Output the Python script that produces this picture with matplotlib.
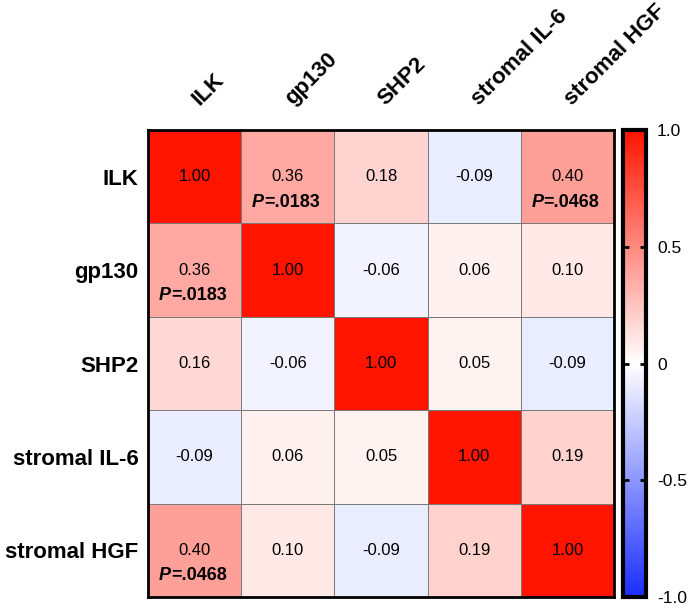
import numpy as np
import matplotlib
matplotlib.use("Agg")
import matplotlib.pyplot as plt
import matplotlib.transforms as mtransforms
from matplotlib.colors import LinearSegmentedColormap

plt.rcParams['font.family'] = ['Liberation Sans', 'DejaVu Sans']

labels = ["ILK", "gp130", "SHP2", "stromal IL-6", "stromal HGF"]
values = [
    [1.00, 0.36, 0.18, -0.09, 0.40],
    [0.36, 1.00, -0.06, 0.06, 0.10],
    [0.16, -0.06, 1.00, 0.05, -0.09],
    [-0.09, 0.06, 0.05, 1.00, 0.19],
    [0.40, 0.10, -0.09, 0.19, 1.00],
]
pvals = {(0, 1): ".0183", (0, 4): ".0468", (1, 0): ".0183", (4, 0): ".0468"}
cbar_ticks = [-1.0, -0.5, 0, 0.5, 1.0]
cbar_labels = ["-1.0", "-0.5", "0", "0.5", "1.0"]

data = np.array(values)
n = len(labels)
cmap = LinearSegmentedColormap.from_list("bwr2", ["#1a2eff", "#ffffff", "#ff1400"])

fig = plt.figure(figsize=(6.88, 6.08), dpi=100)
ax = fig.add_axes([148/688, 1-597/608, (614-148)/688, (597-130)/608])
cax = fig.add_axes([623/688, 1-597/608, (646-623)/688, (597-130)/608])

mesh = ax.pcolormesh(np.arange(n+1), np.arange(n+1), data, cmap=cmap, vmin=-1, vmax=1,
                     edgecolor="#7a7a7a", linewidth=0.6)
ax.set_xlim(0, n)
ax.set_ylim(n, 0)
for s in ax.spines.values():
    s.set_linewidth(2)
    s.set_color("black")

ax.set_xticks(np.arange(n) + 0.5)
ax.set_yticks(np.arange(n) + 0.5)
ax.xaxis.tick_top()
ax.set_xticklabels(labels, rotation=45, ha="left", va="bottom", rotation_mode="anchor",
                   fontsize=16, fontweight="bold")
ax.set_yticklabels(labels, fontsize=16, fontweight="bold")
ax.tick_params(axis="both", length=0)
ax.tick_params(axis="x", pad=15)
ax.tick_params(axis="y", pad=7)
offset = mtransforms.ScaledTranslation(8/100, 0, fig.dpi_scale_trans)
for lbl in ax.get_xticklabels():
    lbl.set_transform(lbl.get_transform() + offset)

for i in range(n):
    for j in range(n):
        ax.text(j + 0.5, i + 0.5, f"{data[i, j]:.2f}", ha="center", va="center", fontsize=12)
        if (i, j) in pvals:
            ax.text(j + 0.5 - 0.255, i + 0.775, "P", ha="right", va="center",
                    fontsize=13, fontweight="bold", fontstyle="italic")
            ax.text(j + 0.5 - 0.255, i + 0.775, "=" + pvals[(i, j)], ha="left", va="center",
                    fontsize=13, fontweight="bold")

cb = fig.colorbar(mesh, cax=cax)
cb.outline.set_linewidth(3)
cb.set_ticks(cbar_ticks)
cb.set_ticklabels(cbar_labels)
cax.tick_params(axis="y", direction="in", length=4, width=2, left=True, right=True,
                labelsize=12.5, pad=8)

fig.savefig("out.png", dpi=100)
